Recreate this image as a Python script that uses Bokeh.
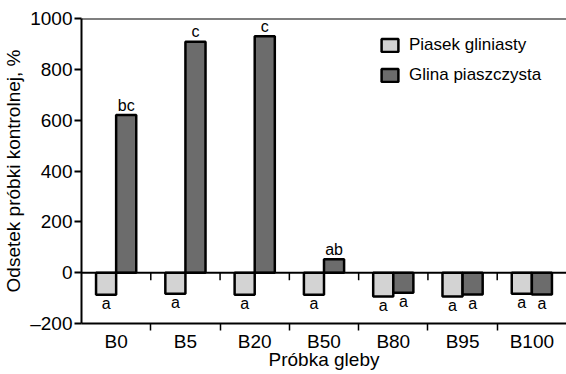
from bokeh.plotting import figure
from bokeh.models import Range1d, FixedTicker, Span, Legend, LegendItem, ColumnDataSource
from bokeh.core.properties import value
from bokeh.embed import file_html
from bokeh.resources import INLINE

categories = ["B0", "B5", "B20", "B50", "B80", "B95", "B100"]
piasek = [-87, -83, -87, -87, -94, -94, -83]
glina = [620, 909, 930, 53, -79, -86, -86]
piasek_letters = ["a", "a", "a", "a", "a", "a", "a"]
glina_letters = ["bc", "c", "c", "ab", "a", "a", "a"]
series_names = ["Piasek gliniasty", "Glina piaszczysta"]
y_ticks = [-200, 0, 200, 400, 600, 800, 1000]
y_tick_labels = ["\u2013200", "0", "200", "400", "600", "800", "1000"]

FONT = "Liberation Sans"
LIGHT = "#d3d3d3"
DARK = "#6c6c6c"
BW = 0.29

xs = list(range(len(categories)))

p = figure(width=566, height=374,
           x_range=Range1d(-0.5, len(categories) - 0.5),
           y_range=Range1d(-200, 1000),
           output_backend="svg", toolbar_location=None,
           min_border_left=80, min_border_right=0,
           min_border_top=18, min_border_bottom=51)
p.outline_line_color = None
p.xgrid.visible = False
p.ygrid.visible = False
p.background_fill_color = "white"
p.border_fill_color = "white"

s1 = ColumnDataSource(dict(x=[x - BW / 2 for x in xs], top=piasek))
s2 = ColumnDataSource(dict(x=[x + BW / 2 for x in xs], top=glina))

r1 = p.vbar(x="x", top="top", bottom=0, width=BW, source=s1,
            fill_color=LIGHT, line_color="black", line_width=2.5)
r2 = p.vbar(x="x", top="top", bottom=0, width=BW, source=s2,
            fill_color=DARK, line_color="black", line_width=2.5)

# significance letters
pos_x, pos_y, pos_t, neg_x, neg_y, neg_t = [], [], [], [], [], []
for xs_, vals, labs in ((s1.data["x"], piasek, piasek_letters),
                        (s2.data["x"], glina, glina_letters)):
    for x, v, t in zip(xs_, vals, labs):
        if v >= 0:
            pos_x.append(x); pos_y.append(v + 6); pos_t.append(t)
        else:
            neg_x.append(x); neg_y.append(v - 2); neg_t.append(t)

p.text(x=pos_x, y=pos_y, text=pos_t, text_align="center",
       text_baseline="bottom", text_font=value(FONT),
       text_font_size="16px", text_color="black")
p.text(x=neg_x, y=neg_y, text=neg_t, text_align="center",
       text_baseline="top", text_font=value(FONT),
       text_font_size="16px", text_color="black")

# ticks on the zero line at category boundaries
bounds = [i + 0.5 for i in range(len(categories) - 1)]
p.segment(x0=bounds, y0=[0] * len(bounds), x1=bounds, y1=[-30] * len(bounds),
          line_color="black", line_width=1.5)

p.add_layout(Span(location=0, dimension="width", line_color="black", line_width=2))
p.add_layout(Span(location=1000, dimension="width", line_color="black", line_width=2))

# y axis
ya = p.yaxis[0]
ya.ticker = FixedTicker(ticks=y_ticks)
ya.major_label_overrides = {t: l for t, l in zip(y_ticks, y_tick_labels)}
ya.minor_tick_line_color = None
ya.major_tick_out = 7
ya.major_tick_in = 0
ya.major_tick_line_width = 2
ya.axis_line_width = 2
ya.major_label_text_font = FONT
ya.major_label_text_font_size = "19px"
ya.major_label_text_color = "black"
ya.major_label_standoff = 2
ya.axis_label = "Odsetek próbki kontrolnej, %"
ya.axis_label_text_font = FONT
ya.axis_label_text_font_size = "19px"
ya.axis_label_text_font_style = "normal"
ya.axis_label_text_color = "black"
ya.axis_label_standoff = 3

# x axis
xa = p.xaxis[0]
xa.ticker = FixedTicker(ticks=xs, minor_ticks=bounds)
xa.major_label_overrides = {i: c for i, c in enumerate(categories)}
xa.major_tick_line_color = None
xa.major_tick_out = 7
xa.minor_tick_out = 7
xa.minor_tick_in = 0
xa.minor_tick_line_width = 1.5
xa.minor_tick_line_color = "black"
xa.axis_line_width = 2
xa.major_label_text_font = FONT
xa.major_label_text_font_size = "19px"
xa.major_label_text_color = "black"
xa.major_label_standoff = 0
xa.axis_label = "Próbka gleby"
xa.axis_label_text_font = FONT
xa.axis_label_text_font_size = "19px"
xa.axis_label_text_font_style = "normal"
xa.axis_label_text_color = "black"
xa.axis_label_standoff = -6

legend = Legend(items=[LegendItem(label=series_names[0], renderers=[r1]),
                       LegendItem(label=series_names[1], renderers=[r2])],
                location=(298, 238), border_line_color=None,
                background_fill_alpha=0, glyph_width=21, glyph_height=16,
                label_height=16, spacing=10, padding=0, margin=0,
                label_text_font=FONT, label_text_font_size="17px",
                label_text_color="black", label_standoff=9)
p.add_layout(legend)

open("out.html", "w").write(file_html(p, INLINE))
